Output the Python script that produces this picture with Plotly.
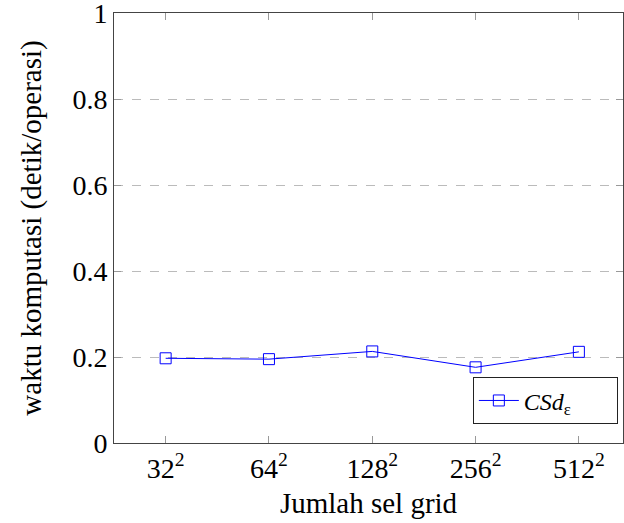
import plotly.graph_objects as go

categories = ["32", "64", "128", "256", "512"]
values = [0.197, 0.195, 0.213, 0.176, 0.212]
y_ticks = [0, 0.2, 0.4, 0.6, 0.8, 1]
y_tick_labels = ["0", "0.2", "0.4", "0.6", "0.8", "1"]

x_idx = list(range(len(categories)))
x_labels = [f"{c}<sup>2</sup>" for c in categories]

FONT = "Times New Roman"

fig = go.Figure()
fig.add_trace(go.Scatter(
    x=x_idx, y=values, mode="lines+markers",
    name="<i>CSd</i><sub>ε</sub>",
    line=dict(color="#0000ff", width=1),
    marker=dict(symbol="square-open", size=11, color="#0000ff", line=dict(width=1)),
))

fig.update_layout(
    width=624, height=523,
    margin=dict(l=114, r=1, t=13, b=80, autoexpand=False),
    plot_bgcolor="white", paper_bgcolor="white",
    font=dict(family=FONT, size=28, color="black"),
    showlegend=True,
    legend=dict(x=0.705, y=0.098, xanchor="left", yanchor="middle",
                orientation="h", entrywidth=88, itemwidth=40,
                bordercolor="#222222", borderwidth=1, bgcolor="white",
                font=dict(family=FONT, size=24)),
)
fig.update_xaxes(
    range=[-0.5, 4.427], tickmode="array", tickvals=x_idx, ticktext=x_labels,
    showline=True, linecolor="#444444", linewidth=1, mirror="ticks",
    ticks="inside", ticklen=7, tickcolor="#999999",
    showgrid=False, zeroline=False, automargin=False,
    ticklabeloverflow="allow",
    tickfont=dict(family=FONT, size=28, color="black"),
    title=dict(text="Jumlah sel grid", font=dict(family=FONT, size=29), standoff=10),
)
fig.update_yaxes(
    range=[0, 1], tickmode="array", tickvals=y_ticks, ticktext=y_tick_labels,
    showline=True, linecolor="#444444", linewidth=1, mirror="ticks",
    ticks="inside", ticklen=7, tickcolor="#999999",
    showgrid=True, gridcolor="#bbbbbb", griddash="dash", gridwidth=1,
    zeroline=False, automargin=False,
    ticklabeloverflow="allow",
    tickfont=dict(family=FONT, size=28, color="black"),
    title=dict(text="waktu komputasi (detik/operasi)", font=dict(family=FONT, size=29), standoff=22),
)
fig.write_html("out.html", post_script="document.body.style.margin='0';",
               config={"displayModeBar": False})
